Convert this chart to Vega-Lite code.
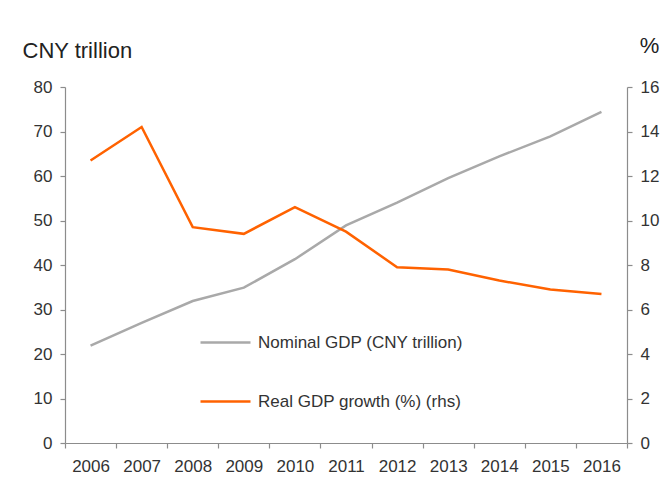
{
  "$schema": "https://vega.github.io/schema/vega-lite/v6.json",
  "autosize": "none",
  "width": 562,
  "height": 356,
  "padding": {"left": 65, "top": 87, "right": 41, "bottom": 45},
  "background": "white",
  "config": {
    "view": {"stroke": null},
    "font": "Liberation Sans",
    "axis": {
      "grid": false,
      "domainColor": "#8c8c8c",
      "tickColor": "#8c8c8c",
      "labelColor": "#333333",
      "labelFont": "Liberation Sans",
      "labelFontSize": 17,
      "tickSize": 5,
      "domainWidth": 1.2,
      "tickWidth": 1.2,
      "titleColor": "#222222",
      "titleFont": "Liberation Sans",
      "titleFontWeight": "normal"
    }
  },
  "data": {
    "values": [
      {"year": "2006", "series": "Nominal GDP (CNY trillion)", "value": 21.9},
      {"year": "2007", "series": "Nominal GDP (CNY trillion)", "value": 27.0},
      {"year": "2008", "series": "Nominal GDP (CNY trillion)", "value": 31.9},
      {"year": "2009", "series": "Nominal GDP (CNY trillion)", "value": 34.9},
      {"year": "2010", "series": "Nominal GDP (CNY trillion)", "value": 41.3},
      {"year": "2011", "series": "Nominal GDP (CNY trillion)", "value": 48.9},
      {"year": "2012", "series": "Nominal GDP (CNY trillion)", "value": 54.0},
      {"year": "2013", "series": "Nominal GDP (CNY trillion)", "value": 59.5},
      {"year": "2014", "series": "Nominal GDP (CNY trillion)", "value": 64.4},
      {"year": "2015", "series": "Nominal GDP (CNY trillion)", "value": 68.9},
      {"year": "2016", "series": "Nominal GDP (CNY trillion)", "value": 74.4},
      {"year": "2006", "series": "Real GDP growth (%) (rhs)", "value": 12.7},
      {"year": "2007", "series": "Real GDP growth (%) (rhs)", "value": 14.2},
      {"year": "2008", "series": "Real GDP growth (%) (rhs)", "value": 9.7},
      {"year": "2009", "series": "Real GDP growth (%) (rhs)", "value": 9.4},
      {"year": "2010", "series": "Real GDP growth (%) (rhs)", "value": 10.6},
      {"year": "2011", "series": "Real GDP growth (%) (rhs)", "value": 9.5},
      {"year": "2012", "series": "Real GDP growth (%) (rhs)", "value": 7.9},
      {"year": "2013", "series": "Real GDP growth (%) (rhs)", "value": 7.8},
      {"year": "2014", "series": "Real GDP growth (%) (rhs)", "value": 7.3},
      {"year": "2015", "series": "Real GDP growth (%) (rhs)", "value": 6.9},
      {"year": "2016", "series": "Real GDP growth (%) (rhs)", "value": 6.7}
    ]
  },
  "encoding": {
    "x": {
      "field": "year",
      "type": "ordinal",
      "bandPosition": 0.5,
      "scale": {"type": "band", "paddingInner": 0, "paddingOuter": 0},
      "axis": {"title": null, "labelAngle": 0, "tickBand": "extent", "labelPadding": 10}
    },
    "color": {
      "field": "series",
      "type": "nominal",
      "scale": {
        "domain": ["Nominal GDP (CNY trillion)", "Real GDP growth (%) (rhs)"],
        "range": ["#a9a9a9", "#ff6200"]
      },
      "legend": {
        "title": null,
        "orient": "none",
        "legendX": 134,
        "legendY": 229,
        "padding": 0,
        "symbolType": "stroke",
        "symbolSize": 2500,
        "symbolStrokeWidth": 2.5,
        "labelFontSize": 17,
        "labelColor": "#333333",
        "labelFont": "Liberation Sans",
        "labelOffset": 6,
        "rowPadding": 24,
        "labelLimit": 400
      }
    }
  },
  "layer": [
    {
      "transform": [{"filter": "datum.series === 'Nominal GDP (CNY trillion)'"}],
      "mark": {"type": "line", "strokeWidth": 2.5},
      "encoding": {
        "y": {
          "field": "value",
          "type": "quantitative",
          "scale": {"domain": [0, 80], "nice": false},
          "axis": {
            "values": [0, 10, 20, 30, 40, 50, 60, 70, 80],
            "title": "CNY trillion",
            "titleAngle": 0,
            "titleAlign": "left",
            "titleBaseline": "middle",
            "titleX": -43,
            "titleY": -37,
            "titleFontSize": 22,
            "labelPadding": 8
          }
        }
      }
    },
    {
      "transform": [{"filter": "datum.series === 'Real GDP growth (%) (rhs)'"}],
      "mark": {"type": "line", "strokeWidth": 2.5},
      "encoding": {
        "y": {
          "field": "value",
          "type": "quantitative",
          "scale": {"domain": [0, 16], "nice": false},
          "axis": {
            "orient": "right",
            "values": [0, 2, 4, 6, 8, 10, 12, 14, 16],
            "title": "%",
            "titleAngle": 0,
            "titleAlign": "center",
            "titleBaseline": "middle",
            "titleX": 22,
            "titleY": -42,
            "titleFontSize": 22,
            "labelPadding": 8
          }
        }
      }
    }
  ],
  "resolve": {"scale": {"y": "independent"}}
}
